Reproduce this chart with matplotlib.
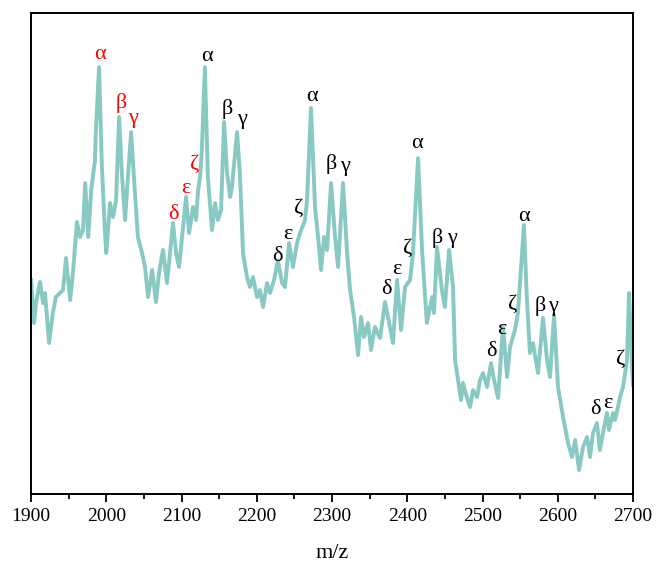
import matplotlib
matplotlib.use('Agg')
import matplotlib.pyplot as plt
from matplotlib.ticker import MultipleLocator

plt.rcParams['font.family'] = ['Liberation Serif', 'DejaVu Serif']

# m/z and intensity (a.u.)
mz = [1900, 1904, 1906.6, 1912, 1916, 1918.6, 1924, 1929, 1933, 1938.5,
      1942.5, 1946.5, 1952, 1956, 1961, 1965, 1969, 1972, 1976, 1980,
      1985, 1986, 1990.4, 1994, 1998, 2000, 2005, 2009, 2013, 2017,
      2021, 2025, 2027.6, 2033, 2037, 2042, 2047.5, 2051.5, 2055.5, 2061,
      2066, 2070, 2075.4, 2080.7, 2088.7, 2092.7, 2096.7, 2102, 2106, 2110,
      2115.3, 2119.3, 2122, 2124.6, 2127, 2131, 2135, 2140.5, 2144.5, 2148.5,
      2152.5, 2156.5, 2160.5, 2164.5, 2167, 2173.8, 2177.7, 2181.7, 2187, 2191,
      2195, 2200.3, 2204.3, 2208.3, 2213.6, 2217.6, 2223, 2228, 2233.6, 2237.5,
      2242.9, 2248, 2253.5, 2257.5, 2264, 2266.8, 2272, 2277.4, 2281.4, 2285.4,
      2289.4, 2293.4, 2298.7, 2304, 2308, 2314.6, 2320, 2324, 2329.2, 2334.6,
      2338.5, 2342.5, 2347.8, 2351.8, 2357, 2363.8, 2370.4, 2374.4, 2381, 2386.4,
      2391.7, 2397, 2403.7, 2407.6, 2414.3, 2419.6, 2426, 2433, 2435.5, 2439.5,
      2446, 2450, 2455.5, 2460.8, 2463.5, 2467.5, 2471.4, 2474, 2479.4, 2483.4,
      2487.4, 2492.7, 2496.7, 2500.7, 2506, 2511.3, 2515.3, 2520.6, 2527.2, 2532.6,
      2536.5, 2543, 2547, 2555, 2559, 2563, 2567, 2573.7, 2580.4, 2585.7,
      2589.7, 2595, 2600.3, 2607, 2613.6, 2619, 2623, 2628.3, 2633.5, 2638.9,
      2642.9, 2646.8, 2652, 2656, 2661.5, 2665.4, 2668, 2673.4, 2676, 2680,
      2682.7, 2686.7, 2692, 2694.7, 2698.7, 2700]
intensity = [214, 171, 191, 212, 191, 201, 151, 181, 197, 201,
             204, 236, 194, 224, 272, 257, 264, 311, 257, 304,
             334, 361, 427, 331, 264, 241, 291, 277, 294, 377,
             317, 274, 304, 362, 314, 257, 241, 227, 197, 224,
             192, 221, 244, 211, 271, 241, 227, 267, 297, 261,
             287, 274, 304, 317, 344, 427, 317, 264, 291, 274,
             284, 372, 321, 297, 307, 362, 319, 241, 217, 207,
             217, 197, 204, 187, 211, 201, 214, 234, 211, 207,
             251, 227, 251, 261, 274, 294, 386, 287, 257, 224,
             257, 244, 311, 257, 227, 311, 241, 204, 177, 139,
             177, 157, 171, 144, 167, 156, 192, 177, 151, 214,
             164, 207, 214, 241, 336, 244, 171, 197, 181, 247,
             204, 187, 244, 207, 134, 114, 94, 111, 96, 87,
             104, 97, 114, 121, 107, 131, 114, 96, 167, 117,
             147, 164, 181, 269, 194, 141, 151, 121, 176, 134,
             117, 179, 107, 77, 51, 37, 54, 24, 47, 57,
             37, 61, 71, 44, 67, 81, 64, 81, 74, 87,
             97, 107, 134, 201, 127, 109]

# peak labels: symbol, m/z, height, colour
lab_text = ['α', 'β', 'γ', 'δ', 'ε', 'ζ',
            'α', 'β', 'γ', 'δ', 'ε', 'ζ',
            'α', 'β', 'γ', 'δ', 'ε', 'ζ',
            'α', 'β', 'γ', 'δ', 'ε', 'ζ',
            'α', 'β', 'γ', 'δ', 'ε', 'ζ']
lab_x = [1991.7, 2019.6, 2035.5, 2088.7, 2106, 2118,
         2134, 2160.5, 2180.4, 2228, 2241.5, 2256,
         2273.4, 2298.7, 2317, 2371.8, 2386.4, 2401,
         2413, 2439.5, 2459.5, 2511.3, 2526, 2540.5,
         2555, 2576.4, 2594, 2649.5, 2667, 2684]
lab_y = [441, 392, 377, 281, 307, 331,
         439, 386, 376, 239, 261, 287,
         399, 331, 329, 206, 226, 247,
         352, 257, 257, 144, 166, 191,
         279, 189, 189, 86, 92, 136]
lab_color = ['red'] * 6 + ['black'] * 24

fig = plt.figure(figsize=(6.56, 5.68), dpi=100)
ax = fig.add_axes([0.0473, 0.1303, 0.9177, 0.8467])

ax.plot(mz, intensity, color='#88C9C3', lw=2.8, solid_joinstyle='round')

for t, x, y, c in zip(lab_text, lab_x, lab_y, lab_color):
    ax.text(x, y - 6, t, color=c, fontsize=16, ha='center', va='baseline')

ax.set_xlim(1900, 2700)
ax.set_ylim(0, 481)
ax.xaxis.set_major_locator(MultipleLocator(100))
ax.xaxis.set_minor_locator(MultipleLocator(50))
ax.set_yticks([])
ax.tick_params(axis='x', which='major', direction='out', length=6, width=1.3,
               labelsize=14, pad=4)
ax.tick_params(axis='x', which='minor', direction='out', length=3.5, width=1.3)
for s in ax.spines.values():
    s.set_linewidth(1.4)

ax.set_xlabel('m/z', fontsize=16, labelpad=14)

fig.savefig('out.png', dpi=100)
